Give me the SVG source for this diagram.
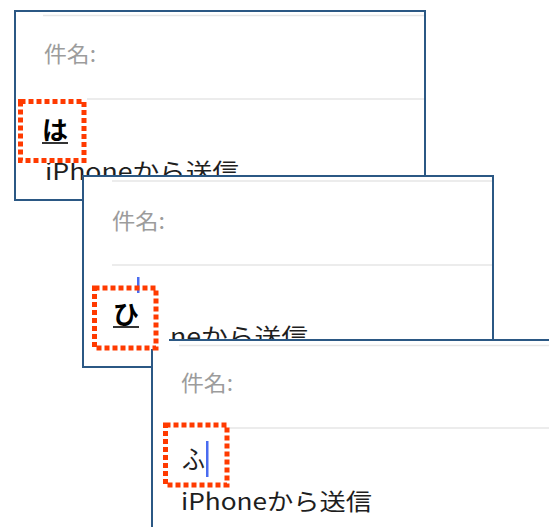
<svg xmlns="http://www.w3.org/2000/svg" width="549" height="527" viewBox="0 0 549 527">
<style>
.frame{fill:#fff;stroke:#2b5884;stroke-width:2}
.sep{stroke:#e6e6e6;stroke-width:1.5}
.label{font-family:"Noto Sans CJK JP","Noto Sans",sans-serif;font-size:22px;fill:#9c9c9c}
.body{font-family:"Noto Sans CJK JP","Noto Sans",sans-serif;font-size:23px;fill:#1e1e1e}
.kana{font-family:"Noto Sans CJK JP",sans-serif;font-size:26px;fill:#000}
.bold{font-weight:bold}
.cover{fill:#fff}
.mark{fill:none;stroke:#ff3a00;stroke-width:5;stroke-dasharray:5 3}
.cursor{fill:#4a6cf0}
.ul{stroke:#000;stroke-width:1.6}
</style>
<rect width="549" height="527" fill="#fff"/>
<g id="panel-ha">
<rect class="frame" x="15" y="11" width="410" height="189"/>
<line class="sep" x1="43" y1="15.5" x2="424" y2="15.5"/>
<line class="sep" x1="43" y1="99" x2="424" y2="99"/>
<text class="label" x="44" y="62" textLength="52" lengthAdjust="spacingAndGlyphs">件名:</text>
<text class="body" x="45" y="180" textLength="194" lengthAdjust="spacingAndGlyphs">iPhoneから送信</text>
<rect class="cover" x="18" y="97" width="69" height="66"/>
<text class="kana bold" x="42" y="140" textLength="26" lengthAdjust="spacingAndGlyphs">は</text>
<line class="ul" x1="42" y1="143" x2="68" y2="143"/>
<rect class="mark" x="20.5" y="101.5" width="63.5" height="59"/>
</g>
<g id="panel-hi">
<rect class="frame" x="83" y="176" width="410" height="191"/>
<line class="sep" x1="112" y1="181" x2="492" y2="181"/>
<line class="sep" x1="112" y1="265" x2="492" y2="265"/>
<text class="label" x="112" y="229" textLength="53" lengthAdjust="spacingAndGlyphs">件名:</text>
<text class="body" x="170" y="345" textLength="138" lengthAdjust="spacingAndGlyphs">neから送信</text>
</g>
<g id="panel-fu">
<rect class="frame" x="152" y="340" width="420" height="220"/>
<line class="sep" x1="179" y1="345.5" x2="549" y2="345.5"/>
<line class="sep" x1="229" y1="428" x2="549" y2="428"/>
<text class="label" x="181" y="391" textLength="52" lengthAdjust="spacingAndGlyphs">件名:</text>
<text class="body" x="181" y="510" textLength="191" lengthAdjust="spacingAndGlyphs">iPhoneから送信</text>
<rect class="cover" x="162" y="422" width="67" height="67"/>
<text class="kana" x="182" y="469" style="fill:#222" textLength="23" lengthAdjust="spacingAndGlyphs">ふ</text>
<rect class="cursor" x="206" y="441" width="2.5" height="36"/>
<rect class="mark" x="165.5" y="425" width="61.5" height="60"/>
</g>
<g id="panel-hi-mark">
<rect class="cover" x="91" y="285" width="78" height="64"/>
<text class="kana bold" x="113" y="324" textLength="26" lengthAdjust="spacingAndGlyphs">ひ</text>
<line class="ul" x1="113" y1="327" x2="139" y2="327"/>
<rect class="cursor" x="137" y="277" width="2.5" height="16"/>
<rect class="mark" x="94.5" y="288" width="61.5" height="60"/>
</g>
</svg>
